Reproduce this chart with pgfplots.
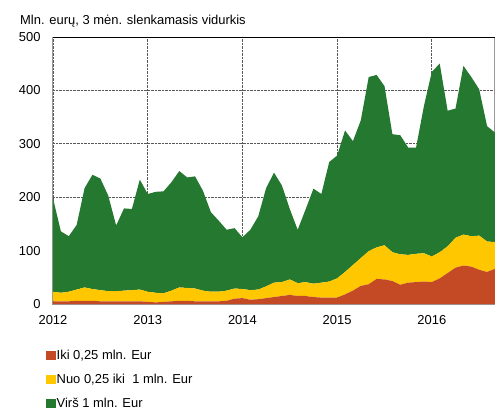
\documentclass[border=0pt]{standalone}
\usepackage{pgfplots}
\usepackage{pgfplotstable}
\pgfplotsset{compat=1.18}
\usepackage{fontspec}
\setmainfont{Liberation Sans}
\definecolor{cred}{HTML}{C44A26}
\definecolor{cyel}{HTML}{FFC700}
\definecolor{cgrn}{HTML}{24782F}
\pgfplotstableread{
m r y g
0 5 18 175
1 5 16 115
2 5 18 104
3 6 21 121
4 6 25 186
5 6 22 214
6 5 21 209
7 5 19 179
8 5 19 123
9 5 20 154
10 5 21 152
11 5 22 206
12 4 19 183
13 3 18 189
14 4 16 191
15 5 20 203
16 6 25 218
17 6 24 207
18 5 24 210
19 5 20 187
20 5 18 149
21 5 18 133
22 6 19 114
23 10 19 113
24 11 17 97
25 8 18 113
26 9 18 137
27 11 22 184
28 13 27 206
29 15 26 181
30 17 29 132
31 15 24 100
32 15 26 136
33 13 25 178
34 12 28 166
35 12 30 224
36 12 36 230
37 18 42 265
38 25 48 232
39 34 52 258
40 37 62 326
41 47 59 323
42 46 64 298
43 43 54 221
44 36 57 223
45 40 52 201
46 41 53 199
47 42 53 276
48 41 48 346
49 48 49 353
50 58 50 254
51 68 56 242
52 72 58 316
53 70 57 298
54 64 64 274
55 60 57 216
56 66 50 205
}\data
\begin{document}
\begin{tikzpicture}
\useasboundingbox (-53bp,-106bp) rectangle (447bp,304bp);
\node[anchor=base west, font=\fontsize{13}{15}\selectfont, inner sep=0pt] at (-33bp,279bp) {Mln. eurų, 3 mėn. slenkamasis vidurkis};
\begin{axis}[
  at={(0,0)}, anchor=south west,
  scale only axis, width=442bp, height=267bp,
  xmin=0, xmax=56, ymin=0, ymax=500,
  stack plots=y,
  xtick={0,12,24,36,48},
  xticklabels={2012,2013,2014,2015,2016},
  ytick={0,100,200,300,400,500},
  grid=major,
  grid style={densely dotted, gray!70!black, line width=0.8bp},
  major tick length=0pt,
  /pgf/number format/assume math mode=true,
  ticklabel style={font=\fontsize{13}{15}\selectfont},
  yticklabel style={xshift=-9bp},
  xticklabel style={yshift=-8bp},
  axis line style={draw=gray!80, line width=1bp},
  legend style={at={(0,0)}, anchor=north west, xshift=-7bp, yshift=-45bp,
    draw=none, fill=none, font=\fontsize{13}{15}\selectfont,
    row sep=11bp, inner sep=0pt, nodes={inner sep=1bp}},
  legend cell align=left,
  legend image code/.code={\path[#1] (0bp,-4.5bp) rectangle (9.5bp,4.5bp);},
]
\addplot[fill=cred, draw=none] table[x=m, y=r] {\data} \closedcycle;
\addlegendentry{Iki 0,25 mln. Eur}
\addplot[fill=cyel, draw=none] table[x=m, y=y] {\data} \closedcycle;
\addlegendentry{Nuo 0,25 iki\ \ 1 mln. Eur}
\addplot[fill=cgrn, draw=none] table[x=m, y=g] {\data} \closedcycle;
\addlegendentry{Virš 1 mln. Eur}
\draw[black, line width=1bp] (rel axis cs:0,1) -- (rel axis cs:1,1);
\end{axis}
\end{tikzpicture}
\end{document}
